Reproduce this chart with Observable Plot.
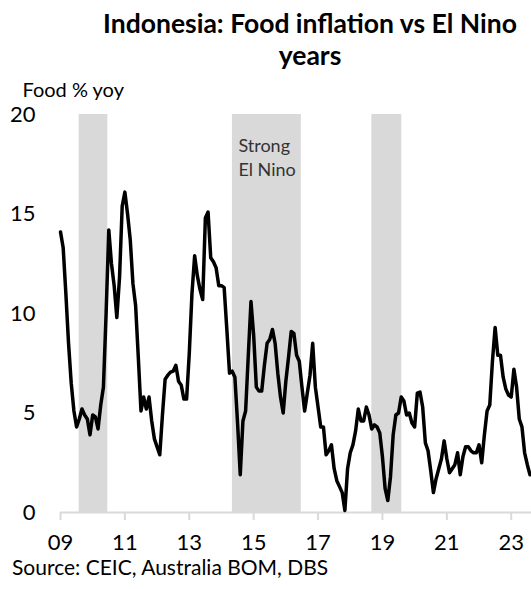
<!DOCTYPE html>
<html>
<head>
<meta charset="utf-8">
<script src="https://cdn.jsdelivr.net/npm/d3@7"></script>
<script src="https://cdn.jsdelivr.net/npm/@observablehq/plot@0.6"></script>
<style>
  html, body { margin: 0; padding: 0; background: #fff; }
  body { width: 531px; height: 589px; position: relative; overflow: hidden; font-family: Lato, "Open Sans", sans-serif; color: #000; }
  #title { position: absolute; left: 80px; width: 460px; top: 7px; text-align: center; font-weight: bold; font-size: 26.5px; line-height: 32px; }
  #chart { position: absolute; left: 0; top: 70px; }
  #source { position: absolute; left: 12px; top: 554px; font-size: 21px; }
</style>
</head>
<body>
<div id="title">Indonesia: Food inflation vs El Nino<br>years</div>
<div id="chart"></div>
<div id="source">Source: CEIC, Australia BOM, DBS</div>
<script>
// Monthly food inflation, % yoy, starting Jan 2009
const startYear = 2009;
const foodYoY = [
  14.1, 13.3, 11.0, 8.5, 6.5, 5.1, 4.3, 4.7, 5.2, 4.9, 4.7, 3.9,   // 2009
  4.9, 4.8, 4.2, 5.4, 6.3, 10.0, 14.2, 12.5, 11.4, 9.8, 11.8, 15.4, // 2010
  16.1, 15.0, 13.7, 11.5, 10.4, 7.8, 5.1, 5.8, 5.2, 5.8, 4.6, 3.7,  // 2011
  3.3, 2.9, 4.9, 6.7, 6.9, 7.05, 7.1, 7.4, 6.6, 6.4, 5.7, 5.7,      // 2012
  8.0, 11.0, 12.9, 11.9, 11.2, 10.7, 14.8, 15.1, 12.8, 12.6, 12.3, 11.4, // 2013
  11.4, 11.3, 9.2, 7.0, 7.1, 6.8, 4.5, 1.9, 4.6, 5.1, 7.9, 10.6,    // 2014
  8.9, 6.3, 6.1, 6.1, 7.4, 8.5, 8.7, 9.2, 8.5, 7.0, 5.8, 5.0,       // 2015
  6.6, 7.8, 9.1, 9.0, 7.9, 7.6, 6.3, 5.1, 6.0, 6.9, 8.5, 6.3,       // 2016
  5.3, 4.3, 4.3, 2.9, 3.1, 3.4, 2.2, 1.6, 1.3, 1.0, 0.1, 2.2,       // 2017
  3.0, 3.4, 4.1, 5.2, 4.6, 4.6, 5.3, 4.9, 4.2, 4.4, 4.3, 4.0,       // 2018
  2.8, 1.2, 0.6, 1.8, 3.9, 4.9, 5.0, 5.8, 5.6, 4.9, 5.0, 4.5,       // 2019
  4.3, 6.0, 6.05, 5.3, 3.5, 3.1, 2.1, 1.0, 1.7, 2.2, 2.7, 3.6,      // 2020
  2.7, 2.0, 2.2, 2.4, 3.0, 1.9, 2.8, 3.3, 3.3, 3.1, 3.0, 3.0,       // 2021
  3.4, 2.5, 3.9, 5.1, 5.4, 7.6, 9.3, 7.9, 7.9, 6.8, 6.2, 5.9,       // 2022
  5.8, 7.2, 6.3, 4.7, 4.3, 3.0, 2.4, 1.9                            // 2023
];

// El Nino episodes (decimal years)
const elNinoStart = [2009.58, 2014.34, 2018.67];
const elNinoEnd   = [2010.47, 2016.48, 2019.60];
const elNinoLabel = ["", "Strong\nEl Nino", ""];

const xTickYears = [2009, 2011, 2013, 2015, 2017, 2019, 2021, 2023];
const yTicks = [0, 5, 10, 15, 20];

const series = foodYoY.map((v, i) => ({t: startYear + i / 12, v}));
const bands = elNinoStart.map((s, i) => ({s, e: elNinoEnd[i], label: elNinoLabel[i]}));

const chart = Plot.plot({
  width: 531,
  height: 484,
  marginTop: 44,
  marginBottom: 42,
  marginLeft: 60,
  marginRight: 0,
  style: {fontFamily: "Lato, 'Open Sans', sans-serif", fontSize: "22px", color: "#000", background: "white", overflow: "visible"},
  x: {domain: [2009, 2023.63], label: null},
  y: {domain: [0, 20], label: null},
  marks: [
    Plot.rect(bands, {x1: "s", x2: "e", y1: 0, y2: 20, fill: "#d9d9d9"}),
    Plot.ruleY([0], {stroke: "#d9d9d9", strokeWidth: 2}),
    Plot.axisX({ticks: xTickYears, tickFormat: d => String(d % 100).padStart(2, "0"), tickSize: 8, tickPadding: 14, stroke: "#d9d9d9", strokeWidth: 2, fill: "#000", strokeOpacity: 1}),
    Plot.axisY({ticks: yTicks, tickSize: 0, tickPadding: 25, fill: "#000"}),
    Plot.line(series, {x: "t", y: "v", stroke: "#000", strokeWidth: 3.5, strokeLinejoin: "round"}),
    Plot.text(bands.filter(d => d.label), {x: "s", y: 20, text: "label", dx: 6, dy: 20, textAnchor: "start", lineAnchor: "top", lineHeight: 1.35, fontSize: 18, fill: "#333"}),
    Plot.text(["Food % yoy"], {frameAnchor: "top-left", dx: -38, dy: -32, textAnchor: "start", fontSize: 20})
  ]
});
document.getElementById("chart").appendChild(chart);
</script>
</body>
</html>
